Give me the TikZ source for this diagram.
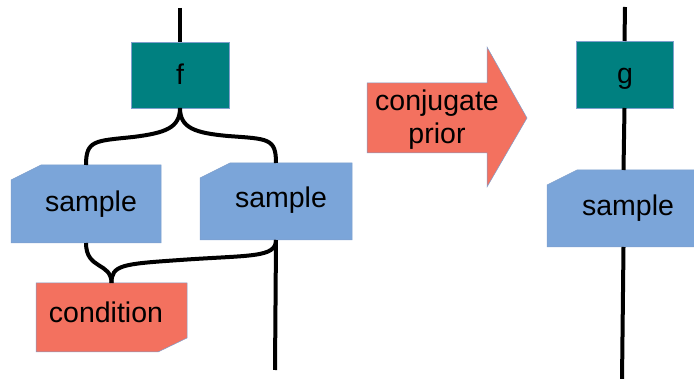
\documentclass[tikz,border=0pt]{standalone}
\usepackage{fontspec}
\setmainfont{Liberation Sans}
\usetikzlibrary{backgrounds}
\definecolor{tealbox}{HTML}{008080}
\definecolor{sampleblue}{HTML}{7BA5D9}
\definecolor{condred}{HTML}{F3715F}
\definecolor{edgeblue}{HTML}{7E9FCC}

\begin{document}
\begin{tikzpicture}[x=1pt,y=-1pt,
  wire/.style={line width=4pt, black},
  shapebox/.style={rectangle, inner sep=0pt, outer sep=0pt},
  outline/.style={draw=edgeblue, line width=0.5pt},
  label/.style={font=\fontsize{28.5}{33}\selectfont, anchor=base, inner sep=0pt, text=black}]
\useasboundingbox (0,0) rectangle (694,379);

% rectangular operator boxes
\node[shapebox, outline, fill=tealbox, minimum width=98pt, minimum height=66pt] (f) at (180,75) {};
\node[label] (ft) at (180,85) {f};
\node[shapebox, outline, fill=tealbox, minimum width=97pt, minimum height=67pt] (g) at (624.5,74.5) {};
\node[label] (gt) at (625,84) {g};

% frames of the chamfered boxes
\node[shapebox, minimum width=150pt, minimum height=78pt] (s1) at (86,204) {};
\node[shapebox, minimum width=152pt, minimum height=77pt] (s2) at (276,201.5) {};
\node[shapebox, minimum width=153pt, minimum height=77pt] (s3) at (623.5,208.5) {};
\node[shapebox, minimum width=151pt, minimum height=69pt] (c) at (111.5,317.5) {};

\begin{scope}[on background layer]
  \foreach \s in {s1,s2,s3}{
    \filldraw[fill=sampleblue, outline]
      ([yshift=-15pt]\s.north west) -- ([xshift=30pt]\s.north west) --
      (\s.north east) -- (\s.south east) -- (\s.south west) -- cycle;
  }
  \filldraw[fill=condred, outline]
    (c.north west) -- (c.north east) -- ([yshift=14pt]c.south east) --
    ([xshift=-29pt]c.south east) -- (c.south west) -- cycle;
\end{scope}

\node[label] (s1t) at (91,212) {sample};
\node[label] (s2t) at (281,208) {sample};
\node[label] (s3t) at (628,216) {sample};
\node[label] (ct) at (106,323) {condition};

% block arrow
\coordinate (a1) at (367,83);
\coordinate (a2) at (487,83);
\coordinate (a3) at (487,47);
\coordinate (a4) at (527,118);
\coordinate (a5) at (487,187);
\coordinate (a6) at (487,153);
\coordinate (a7) at (367,153);
\filldraw[fill=condred, outline] (a1) -- (a2) -- (a3) -- (a4) -- (a5) -- (a6) -- (a7) -- cycle;
\node[label, align=center] (arrowt) at (437,144) {conjugate\\prior};

% wire ends
\coordinate (ftop) at (180,8);
\coordinate (gtop) at (625,7);
\coordinate (s2end) at (275,370);
\coordinate (s3end) at (622,381);

% wires
\draw[wire] (ftop) -- (f.north);
\draw[wire] (f.south) .. controls +(0,20) and (165,133) .. (133,137)
  .. controls (95,141) and ([yshift=25pt]s1.north) .. (s1.north);
\draw[wire] (f.south) .. controls +(0,20) and (195,133) .. (228,136)
  .. controls (268,139) and ([yshift=25pt]s2.north) .. (s2.north);
\draw[wire] (s1.south) .. controls +(0,27) and +(0,-21) .. (c.north);
\draw[wire] (s2.south) .. controls +(0,18) and (250,255) .. (180,260)
  .. controls (122,264) and +(0,-18) .. (c.north);
\draw[wire] (s2.south) -- (s2end);
\draw[wire] (gtop) -- (g.north);
\draw[wire] (g.south) -- (s3.north);
\draw[wire] (s3.south) -- (s3end);
\end{tikzpicture}
\end{document}
